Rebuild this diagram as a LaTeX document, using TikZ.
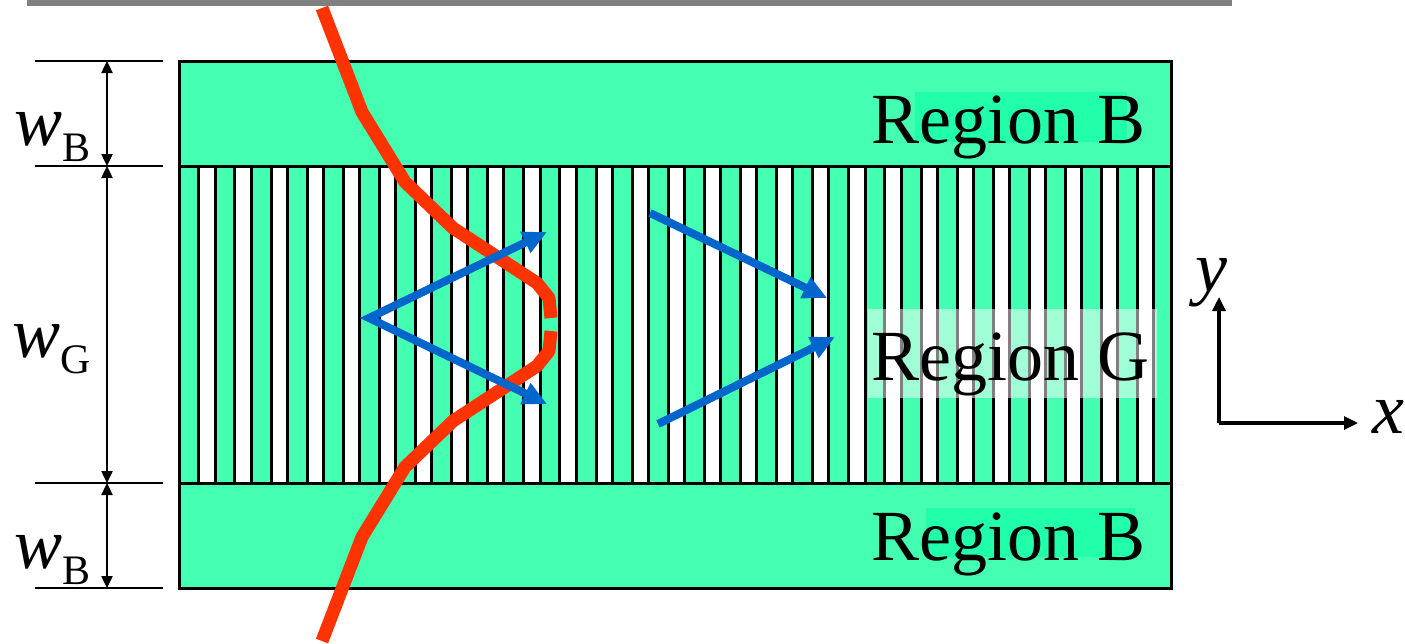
\documentclass[tikz,border=0pt]{standalone}
\usepackage{fontspec}
\setmainfont{Liberation Serif}
\usetikzlibrary{arrows.meta}
\definecolor{bgreen}{RGB}{68,255,178}
\definecolor{hgreen}{RGB}{34,255,170}
\definecolor{redc}{RGB}{255,51,0}
\definecolor{bluec}{RGB}{0,102,204}
\definecolor{barg}{RGB}{128,128,128}
\tikzset{
  big/.style={font=\fontsize{72}{80}\selectfont, inner sep=0pt},
  dimline/.style={line width=2.4pt},
  dimarrow/.style={line width=2.4pt, {Triangle[length=12pt,width=11pt]}-{Triangle[length=12pt,width=11pt]}},
  wave/.style={draw=redc, line width=13pt, line join=round},
  ray/.style={draw=bluec, line width=8pt, -{Triangle[length=24pt,width=22pt]}},
  ray2/.style={draw=bluec, line width=8pt, miter limit=20, {Triangle[length=24pt,width=22pt]}-{Triangle[length=24pt,width=22pt]}},
  axisarrow/.style={line width=3.2pt, -{Triangle[length=14pt,width=13pt]}},
  stripe/.style={fill=bgreen, draw=black, line width=3pt},
}
\newcommand{\subtxt}[1]{\raisebox{-16pt}{\fontsize{42}{42}\selectfont #1}}
\begin{document}
\begin{tikzpicture}[x=1pt,y=-1pt]
\useasboundingbox (0,0) rectangle (1405,643);
% top bar
\fill[barg] (27,0) rectangle (1232,5.5);
% regions
\fill[bgreen] (179,61) rectangle (1171,166);
\fill[bgreen] (179,483) rectangle (1171,588);
\fill[white] (179,166) rectangle (1171,483);
\foreach \k in {0,...,27} {
  \pgfmathsetmacro\xa{179+36.11*\k}
  \pgfmathsetmacro\xb{min(\xa+19.8,1171)}
  \filldraw[stripe] (\xa,166) rectangle (\xb,483);
}
\draw[line width=3pt] (179,61) rectangle (1171,588);
\draw[line width=3pt] (179,166) -- (1171,166) (179,483) -- (1171,483);
% label highlights
\fill[hgreen] (915,92) rectangle (1127,142);
\fill[hgreen] (926,508) rectangle (1135,557);
\fill[white, opacity=0.5] (868,309) rectangle (1157,398);
\node[big, anchor=base west] (rb1) at (871,143) {Region B};
\node[big, anchor=base west] (rb2) at (871,560) {Region B};
\node[big, anchor=base west] (rg) at (871,380) {Region G};
% red wavefront
\coordinate (r1) at (322,8);
\coordinate (r2) at (362,112);
\coordinate (r3) at (405,182);
\coordinate (r4) at (453,228);
\coordinate (r5) at (537,283);
\coordinate (r6) at (549,298);
\coordinate (r7) at (551,318);
\coordinate (s7) at (551,331);
\coordinate (s6) at (549,351);
\coordinate (s5) at (537,366);
\coordinate (s4) at (453,421);
\coordinate (s3) at (405,467);
\coordinate (s2) at (362,537);
\coordinate (s1) at (322,641);
\draw[wave] (r1) -- (r2) -- (r3) -- (r4) -- (r5) -- (r6) -- (r7);
\draw[wave] (s7) -- (s6) -- (s5) -- (s4) -- (s3) -- (s2) -- (s1);
% blue rays
\coordinate (apex) at (369,318);
\coordinate (t1) at (547,232);
\coordinate (t2) at (547,404);
\draw[ray2] (t1) -- (apex) -- (t2);
\coordinate (b1) at (650,213);
\coordinate (b2) at (827,298);
\coordinate (c1) at (658,424);
\coordinate (c2) at (835,337);
\draw[ray] (b1) -- (b2);
\draw[ray] (c1) -- (c2);
% dimension lines
\coordinate (h1a) at (35,61);  \coordinate (h1b) at (163,61);
\coordinate (h2a) at (35,166); \coordinate (h2b) at (163,166);
\coordinate (h3a) at (35,483); \coordinate (h3b) at (163,483);
\coordinate (h4a) at (35,588); \coordinate (h4b) at (163,588);
\draw[dimline] (h1a) -- (h1b) (h2a) -- (h2b) (h3a) -- (h3b) (h4a) -- (h4b);
\coordinate (d1) at (107,61);
\coordinate (d2) at (107,166);
\coordinate (d3) at (107,483);
\coordinate (d4) at (107,588);
\draw[dimarrow] (d1) -- (d2);
\draw[dimarrow] (d2) -- (d3);
\draw[dimarrow] (d3) -- (d4);
\node[big, anchor=base west] (wb1) at (14,145) {\textit{w}\subtxt{B}};
\node[big, anchor=base west] (wg) at (12,357) {\textit{w}\subtxt{G}};
\node[big, anchor=base west] (wb2) at (14,568) {\textit{w}\subtxt{B}};
% axes
\coordinate (O) at (1219,423);
\coordinate (Yt) at (1219,297);
\coordinate (Xt) at (1358,423);
\draw[axisarrow] (O) -- (Yt);
\draw[axisarrow] (O) -- (Xt);
\node[big, anchor=base west] (ylab) at (1195,291) {\textit{y}};
\node[big, anchor=base west] (xlab) at (1372,433) {\textit{x}};
\end{tikzpicture}
\end{document}
